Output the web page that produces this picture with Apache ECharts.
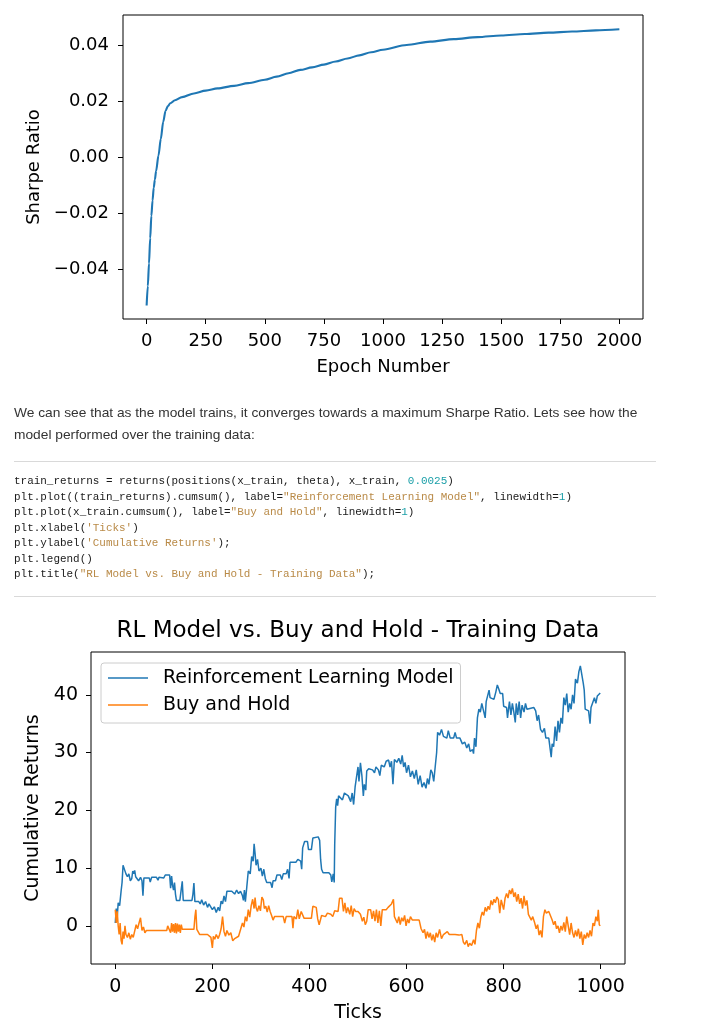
<!DOCTYPE html>
<html><head><meta charset="utf-8">
<script src="https://cdn.jsdelivr.net/npm/echarts@6/dist/echarts.min.js"></script>
<style>
html,body{margin:0;padding:0;background:#fff;}
#wrap{position:relative;width:720px;height:1024px;overflow:hidden;background:#fff;}
#chart{position:absolute;left:0;top:0;width:720px;height:1024px;}
.para{position:absolute;left:14px;font-family:"Liberation Sans",Arial,sans-serif;font-size:13px;color:#333;white-space:nowrap;line-height:22px;transform-origin:0 50%;}
.rule{position:absolute;left:14px;width:642px;height:1px;background:#d9d9d9;}
.code{position:absolute;left:14px;top:474px;font-family:"Liberation Mono",monospace;font-size:10.95px;color:#1a1a1a;white-space:pre;line-height:15.5px;}
.s{color:#b98a47}.n{color:#1a9fa8}
</style></head>
<body>
<div id="wrap">
<div id="chart"></div>
<div class="para" id="p1" style="top:402px">We can see that as the model trains, it converges towards a maximum Sharpe Ratio. Lets see how the</div>
<div class="para" id="p2" style="top:424px">model performed over the training data:</div>
<div class="rule" style="top:461px"></div>
<div class="code">train_returns = returns(positions(x_train, theta), x_train, <span class="n">0.0025</span>)
plt.plot((train_returns).cumsum(), label=<span class="s">"Reinforcement Learning Model"</span>, linewidth=<span class="n">1</span>)
plt.plot(x_train.cumsum(), label=<span class="s">"Buy and Hold"</span>, linewidth=<span class="n">1</span>)
plt.xlabel(<span class="s">'Ticks'</span>)
plt.ylabel(<span class="s">'Cumulative Returns'</span>);
plt.legend()
plt.title(<span class="s">"RL Model vs. Buy and Hold - Training Data"</span>);</div>
<div class="rule" style="top:596px"></div>
</div>
<script>
// ---- Chart 1: Sharpe ratio vs epoch ----
const epochs = [0,5,10,15,20,25,30,35,40,50,60,70,80,90,100,120,150,200,250,300,370,430,500,550,600,650,700,750,800,850,900,950,1000,1100,1200,1300,1400,1500,1600,1700,1800,1900,2000];
const sharpe = [-0.053,-0.046,-0.038,-0.029,-0.021,-0.0155,-0.011,-0.008,-0.005,0.0005,0.0065,0.0125,0.0165,0.0182,0.0192,0.0203,0.0214,0.0227,0.0237,0.0245,0.0254,0.0264,0.0276,0.0287,0.0299,0.0311,0.0320,0.0330,0.0341,0.0352,0.0363,0.0374,0.0383,0.0400,0.0412,0.0421,0.0428,0.0434,0.0439,0.0444,0.0448,0.0452,0.0456];
const xTicks1 = [0,250,500,750,1000,1250,1500,1750,2000];
const yTicks1 = [-0.04,-0.02,0,0.02,0.04];

// ---- Chart 2: cumulative returns [tick, value] ----
const rlPoints = [[0,0.5],[2,3],[4,1.5],[6,4],[9,3.5],[12,6],[14,7.5],[16,10.5],[20,10.5],[22,9],[25,8.5],[28,9],[31,7.8],[34,8.2],[36,9.5],[38,9],[40,9.6],[42,8.5],[45,8.8],[48,7.8],[52,8.4],[55,7.8],[57,5.2],[59,8.3],[70,8.3],[72,7.6],[75,8.4],[85,8.4],[88,7.9],[90,8.4],[100,8.3],[103,8.8],[112,8.8],[114,6.5],[116,8.6],[118,7],[120,6.2],[122,7.5],[124,5.5],[126,4.4],[133,4.4],[136,4.6],[138,7.7],[140,4.4],[158,4.4],[160,5.5],[162,7.4],[164,4.2],[172,4.2],[175,3.8],[178,4.5],[182,3.6],[186,4.2],[190,3.2],[193,3.8],[197,3.5],[200,2.8],[204,3.3],[208,2.3],[212,3.2],[215,2.6],[218,4.3],[221,3.8],[224,5.2],[227,4.2],[230,6],[240,6],[246,5.5],[250,6.2],[254,5.6],[258,6],[262,5.2],[264,4.4],[266,6.2],[268,4.2],[271,6.8],[274,9.5],[278,9],[281,12],[284,11.2],[286,14.2],[288,12.5],[290,10.5],[293,11.5],[296,9.5],[300,10],[303,8.6],[306,9.8],[309,8.2],[312,7.5],[320,7.5],[323,6.6],[325,7.8],[330,7.8],[333,8.8],[340,8.8],[343,8],[346,9],[352,9],[355,9.8],[358,8.2],[360,11],[372,11],[376,11.5],[382,11.2],[384,9.8],[386,13.5],[390,14.6],[396,14.6],[398,13.2],[404,13.2],[407,15.2],[418,15.4],[421,14.8],[423,11.5],[425,9.8],[428,9.2],[440,9.2],[444,8.8],[446,7.6],[449,9],[451,7.5],[452,14],[454,20.5],[456,22],[458,20.8],[460,22.5],[464,22.8],[468,21.8],[472,23],[480,22.5],[485,21.5],[488,23],[491,21],[494,24],[497,25.8],[500,27.5],[502,25],[505,28.2],[508,26],[511,22.5],[513,24.5],[516,23.5],[518,26.8],[522,27.2],[530,27],[534,26.5],[537,27.5],[542,27],[545,26],[548,27.8],[554,27.5],[558,28.5],[563,28.7],[566,27.5],[569,28.5],[572,24.5],[575,28.8],[580,28.3],[584,29],[588,28],[591,29.5],[594,27.5],[597,28.3],[600,26.5],[604,27.8],[608,25.8],[612,26.8],[616,25.5],[620,27],[624,24.5],[628,26],[632,24],[636,24.8],[640,23.8],[643,25.5],[646,24.5],[650,27],[653,26.5],[656,25],[659,27.5],[662,30],[664,33.5],[668,33],[672,34],[676,32.8],[683,32.5],[686,33.8],[690,32.5],[697,32.5],[700,33.5],[703,32.5],[710,32.5],[715,31.5],[720,31.8],[724,30.8],[728,31.5],[731,30.2],[736,30.5],[738,29.8],[740,32.5],[743,31],[746,36],[749,37.5],[752,37],[755,38.5],[759,38.2],[762,36],[764,38.8],[768,39],[770,40.8],[772,39.5],[776,39.8],[780,39.2],[784,40.5],[787,41.7],[790,41],[793,40.2],[798,40.2],[800,38],[806,37.8],[808,36],[810,37.5],[812,38.8],[815,36.5],[818,38.5],[821,37],[824,35.2],[826,38.5],[829,36.5],[832,38.8],[835,36],[838,38.2],[842,37],[845,38.5],[848,37.5],[852,37.8],[862,37.8],[866,37.2],[869,35.5],[872,36.5],[876,34],[880,33.5],[884,34.2],[887,32.5],[893,32.5],[896,30.5],[898,29.2],[900,31.5],[903,31],[906,34.5],[909,32],[912,35.5],[915,33.5],[918,36],[921,35],[924,39.5],[927,38.2],[930,40.2],[933,37],[936,38.5],[939,37.5],[942,40],[945,38.5],[948,42.7],[952,42],[955,44],[958,45],[962,44.8],[964,42],[966,40.8],[968,37.5],[972,37.8],[975,37.2],[978,35],[980,37.8],[984,38],[987,39.5],[990,38.5],[993,39.8],[996,39.5],[999,40.3]];
const bhPoints = [[0,2.8],[2,0.5],[4,2.5],[6,0],[8,-1.5],[10,0.5],[12,-2.5],[14,-3.2],[16,-1],[18,-2.2],[20,0],[22,-1.5],[25,-2],[28,-1.2],[31,-2.3],[34,-1.5],[37,-2],[40,-1.8],[43,0.2],[46,-0.5],[49,0.5],[52,1.4],[55,-0.8],[58,-0.2],[61,-1.2],[64,-0.8],[106,-0.8],[108,0],[112,0],[114,-1.2],[116,0.5],[118,-1],[120,0.3],[122,-1.2],[124,0.5],[126,-1.3],[128,0.4],[130,-1],[132,0.2],[134,-1.2],[136,0.2],[138,-0.6],[162,-0.6],[164,1.5],[166,2.8],[168,-0.6],[172,-0.6],[174,-1.5],[190,-1.5],[194,-1.2],[197,-2],[200,-3.8],[202,-1.8],[205,-2.3],[208,-1.5],[212,-2.2],[215,-1.5],[218,-0.5],[221,1.6],[224,-1],[227,-1.8],[230,-0.8],[234,-1.6],[238,-1.2],[242,-2.6],[246,-2.2],[250,-2.5],[254,-1.8],[258,-1.5],[262,0.5],[265,-0.2],[268,1.6],[271,0.8],[274,2.8],[277,1.5],[280,3.5],[283,4.6],[286,3],[288,4.9],[290,3.2],[293,2.5],[296,3.5],[299,2.6],[302,5],[305,4.5],[307,3],[310,3.4],[313,2.4],[316,3.5],[319,2.5],[322,1.8],[325,1],[328,1.6],[346,1.6],[349,0.5],[352,1.6],[364,1.6],[366,-0.4],[368,1.6],[373,1.2],[376,2.8],[379,1.2],[383,2.5],[386,2.8],[389,1.3],[404,1.3],[407,3.4],[414,3.2],[417,1.2],[420,0.2],[422,0],[425,1.8],[433,1.6],[437,2.2],[444,2],[448,1.6],[452,2.6],[459,2.5],[462,4.8],[467,4.8],[470,2.5],[473,4],[476,2.2],[479,3.2],[483,2],[486,3.5],[489,1.6],[492,3],[495,2.5],[500,2.5],[505,2],[509,0.8],[512,1.5],[515,0.2],[518,0.8],[521,2.8],[526,2.8],[529,1.2],[532,2.6],[535,0.8],[538,2.8],[541,0.5],[544,2.6],[547,0],[550,2.8],[554,3],[558,2.8],[562,3.2],[566,3],[569,3.8],[573,4.6],[575,1.6],[578,1.8],[581,0.5],[584,1.6],[587,0.2],[590,1.4],[593,0.8],[596,1.8],[599,0],[602,1.2],[605,0.5],[608,1.6],[612,1],[626,1],[630,-0.5],[634,-1.2],[637,-0.6],[640,-2.2],[643,-1],[646,-2],[649,-1.2],[652,-2.5],[655,-1.5],[658,-2.8],[661,-1.2],[664,-2],[668,-0.6],[672,-2.2],[676,-1.5],[680,-1.8],[684,-1],[688,-1.5],[692,-1.2],[700,-1.5],[704,-1.2],[708,-1.6],[714,-1.5],[717,-2.8],[720,-3.2],[724,-2.5],[727,-3.6],[730,-3],[734,-3.4],[738,-2.4],[741,-3.2],[744,-0.8],[747,0.5],[750,-0.4],[753,1.5],[756,2.4],[759,1.8],[762,3.2],[765,2.5],[768,3.4],[771,2.8],[774,4.4],[777,3.6],[780,4.6],[783,4],[786,5],[789,4.6],[792,2.2],[795,4.5],[798,4.8],[800,2.8],[803,4.8],[806,5.6],[809,4.8],[812,6.2],[815,5.5],[818,6.5],[821,5],[824,5.8],[827,4.2],[830,5.5],[833,3.8],[836,4.8],[839,3],[842,5.2],[845,3.5],[848,4.4],[851,2],[854,1.8],[857,1],[860,1.6],[864,0.5],[867,-0.5],[870,0.2],[873,-1.6],[876,-0.8],[879,-2],[882,1.6],[885,2.8],[888,2.2],[893,2.5],[897,2.4],[900,1],[903,0.2],[906,0.8],[909,-0.5],[912,0],[915,-1.2],[918,0],[921,-0.8],[924,0.6],[927,-1],[930,1.6],[933,0],[936,-1.5],[939,0.5],[942,-1.2],[945,-2],[948,-0.8],[951,-1.8],[954,-0.5],[957,-2.2],[960,-1],[963,-3.3],[966,-1.5],[969,-2.2],[972,-1.2],[975,-2],[978,-0.8],[981,-1.8],[984,0.5],[987,0],[990,1.6],[993,0.8],[995,2.8],[997,0.2],[999,0]];
const xTicks2 = [0,200,400,600,800,1000];
const yTicks2 = [0,10,20,30,40];
const seriesNames = ['Reinforcement Learning Model','Buy and Hold'];

const FONT = 'DejaVu Sans';
const fmtMinus = v => (v < 0 ? '\u2212' : '') + Math.abs(v).toFixed(2);
const fmtPlain = v => String(v);

function axisBase(fs) {
  return {
    axisLine: {show: false, onZero: false},
    splitLine: {show: false},
    axisTick: {show: true, length: 5, inside: false, lineStyle: {color: '#000', width: 1}},
    axisLabel: {color: '#000', fontFamily: FONT, fontSize: fs, formatter: fmtPlain},
    nameTextStyle: {color: '#000', fontFamily: FONT, fontSize: fs}
  };
}
function mk(base, extra) {
  const o = Object.assign({}, base, extra);
  o.axisTick = Object.assign({}, base.axisTick, extra.axisTick || {});
  o.axisLabel = Object.assign({}, base.axisLabel, extra.axisLabel || {});
  return o;
}

const chart = echarts.init(document.getElementById('chart'), null, {renderer: 'canvas'});
const b1 = axisBase(18), b2 = axisBase(19);
chart.setOption({
  animation: false,
  backgroundColor: 'transparent',
  title: {
    text: 'RL Model vs. Buy and Hold - Training Data',
    left: 358, top: 620, textAlign: 'center', padding: 0,
    textStyle: {fontFamily: FONT, fontSize: 23, fontWeight: 'normal', color: '#000'}
  },
  legend: {
    data: seriesNames, orient: 'vertical', left: 101, top: 663,
    icon: 'rect', itemWidth: 40, itemHeight: 1.6, itemGap: 7,
    padding: [5, 7, 8, 7], selectedMode: false,
    backgroundColor: 'rgba(255,255,255,0.8)', borderColor: '#cccccc', borderWidth: 1, borderRadius: 3,
    textStyle: {fontFamily: FONT, fontSize: 19, color: '#000', lineHeight: 20, padding: [0, 0, 0, 10]}
  },
  grid: [
    {left: 123, top: 15, width: 520, height: 304, show: true, borderColor: '#000', borderWidth: 1, containLabel: false},
    {left: 91, top: 652, width: 534, height: 312, show: true, borderColor: '#000', borderWidth: 1, containLabel: false}
  ],
  xAxis: [
    mk(b1, {type: 'value', gridIndex: 0, min: -100, max: 2100,
      axisTick: {customValues: xTicks1}, axisLabel: {customValues: xTicks1, margin: 13},
      name: 'Epoch Number', nameLocation: 'middle', nameGap: 39}),
    mk(b2, {type: 'value', gridIndex: 1, min: -50, max: 1050,
      axisTick: {customValues: xTicks2}, axisLabel: {customValues: xTicks2, margin: 14},
      name: 'Ticks', nameLocation: 'middle', nameGap: 40})
  ],
  yAxis: [
    mk(b1, {type: 'value', gridIndex: 0, min: -0.0578, max: 0.0507,
      axisTick: {customValues: yTicks1}, axisLabel: {customValues: yTicks1, margin: 14, formatter: fmtMinus},
      name: 'Sharpe Ratio', nameLocation: 'middle', nameGap: 79, nameRotate: 90}),
    mk(b2, {type: 'value', gridIndex: 1, min: -6.6, max: 47.4,
      axisTick: {customValues: yTicks2}, axisLabel: {customValues: yTicks2, margin: 13},
      name: 'Cumulative Returns', nameLocation: 'middle', nameGap: 44, nameRotate: 90})
  ],
  series: [
    {type: 'line', xAxisIndex: 0, yAxisIndex: 0, data: epochs.map((e, i) => [e, sharpe[i]]),
      symbol: 'none', showSymbol: false, smooth: 0.3, smoothMonotone: 'x',
      lineStyle: {color: '#1f77b4', width: 2.1}, itemStyle: {color: '#1f77b4'}},
    {type: 'line', name: seriesNames[0], xAxisIndex: 1, yAxisIndex: 1, data: rlPoints,
      symbol: 'none', showSymbol: false, lineStyle: {color: '#1f77b4', width: 1.5}, itemStyle: {color: '#1f77b4'}},
    {type: 'line', name: seriesNames[1], xAxisIndex: 1, yAxisIndex: 1, data: bhPoints,
      symbol: 'none', showSymbol: false, lineStyle: {color: '#ff7f0e', width: 1.5}, itemStyle: {color: '#ff7f0e'}}
  ]
});

// fit paragraph width to reference (line 1 spans x=14..637)
const p1 = document.getElementById('p1'), p2 = document.getElementById('p2');
const sc = 623 / p1.scrollWidth;
p1.style.transform = 'scaleX(' + sc + ')';
p2.style.transform = 'scaleX(' + sc + ')';
</script>
</body></html>
